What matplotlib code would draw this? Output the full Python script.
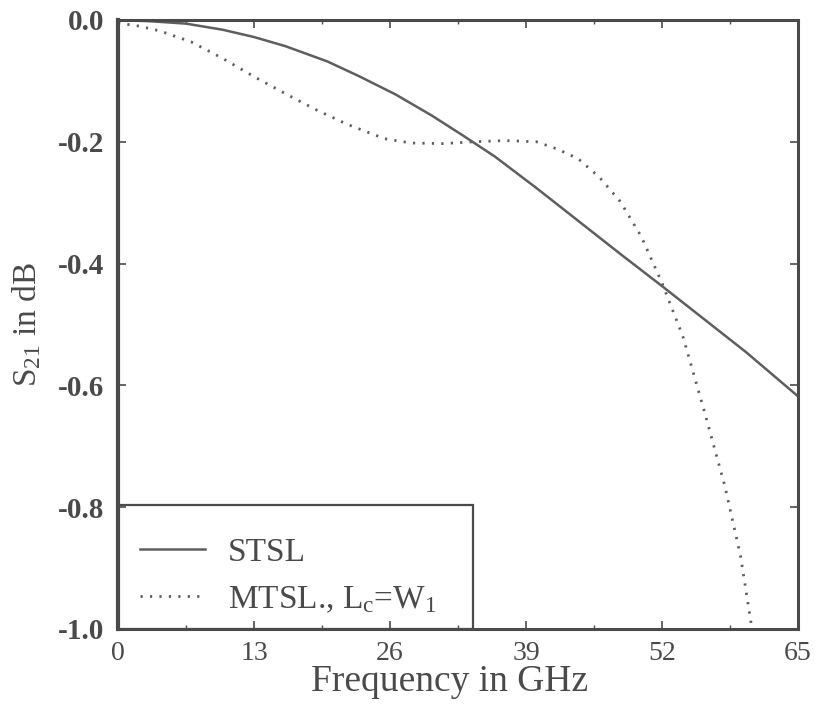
import matplotlib
matplotlib.use("Agg")
import matplotlib.pyplot as plt
from matplotlib.patches import Rectangle
from matplotlib.ticker import MultipleLocator

# Values (frequency in GHz, S21 in dB).
stsl_f = [0, 3, 6.5, 10, 13, 16, 20, 23, 26.5, 30, 33, 36, 40, 44, 48, 52, 56, 60, 65]
stsl_s21 = [0, -0.002, -0.006, -0.016, -0.028, -0.043, -0.068, -0.092, -0.122,
            -0.157, -0.190, -0.224, -0.276, -0.330, -0.384, -0.437, -0.491,
            -0.545, -0.618]

mtsl_f = [0, 2, 4, 7, 10, 13, 16, 19, 22, 25.5, 28, 31, 34, 37, 40, 42, 44, 46,
          48, 50, 52, 54, 56, 58, 59.5, 60.6]
mtsl_s21 = [-0.005, -0.010, -0.018, -0.036, -0.063, -0.093, -0.121, -0.148,
            -0.172, -0.195, -0.202, -0.203, -0.200, -0.198, -0.200, -0.212,
            -0.228, -0.258, -0.298, -0.355, -0.432, -0.520, -0.640, -0.765,
            -0.880, -1.0]

x_ticks = [0, 13, 26, 39, 52, 65]
y_ticks = [0.0, -0.2, -0.4, -0.6, -0.8, -1.0]

INK = "#4a4a4a"
LINE = "#5e5e5e"

plt.rcParams["font.family"] = ["Liberation Serif", "DejaVu Serif"]
plt.rcParams["mathtext.fontset"] = "custom"
plt.rcParams["mathtext.rm"] = "Liberation Serif"
plt.rcParams["mathtext.it"] = "Liberation Serif:italic"

fig = plt.figure(figsize=(8.15, 7.06), dpi=100)
ax = fig.add_axes([0.1448, 0.1091, 0.8344, 0.8626])

ax.plot(stsl_f, stsl_s21, color=LINE, lw=1.8, label="STSL")
ax.plot(mtsl_f, mtsl_s21, color=LINE, lw=2.0, linestyle=(0, (0.8, 2.6)),
        label=r"MTSL., L$_\mathrm{c}$=W$_1$")

ax.set_xlim(0, 65)
ax.set_ylim(-1.0, 0.0)
ax.set_xticks(x_ticks)
ax.set_yticks(y_ticks)
ax.set_yticklabels([f"{v:.1f}" for v in y_ticks])
ax.xaxis.set_minor_locator(MultipleLocator(6.5))

ax.tick_params(which="both", direction="in", top=True, right=True, color=INK)
ax.tick_params(which="major", length=6, width=1.2)
ax.tick_params(which="minor", length=3, width=1.0)
ax.tick_params(axis="x", labelsize=20, labelcolor=INK, pad=9)
ax.tick_params(axis="y", labelsize=21, labelcolor=INK, pad=10)
for lab in ax.get_yticklabels():
    lab.set_fontweight("bold")

for side in ax.spines.values():
    side.set_color(INK)
    side.set_linewidth(2.2)
ax.spines["left"].set_linewidth(3.0)

ax.set_xlabel("Frequency in GHz", fontsize=27, color=INK, va="center")
ax.xaxis.set_label_coords(0.487, -0.087)
ax.set_ylabel(r"S$_{21}$ in dB", fontsize=24, color=INK, va="center")
ax.yaxis.set_label_coords(-0.134, 0.50)

# legend sits in a box drawn against the lower-left corner
ax.add_patch(Rectangle((0, 0), 0.522, 0.204, transform=ax.transAxes,
                       fill=False, edgecolor=INK, lw=1.6, zorder=3))
leg = ax.legend(loc="upper left", frameon=False,
                fontsize=24, handlelength=1.95, handletextpad=0.7,
                labelspacing=0.49, borderpad=0.0, borderaxespad=0.0)
leg.set_bbox_to_anchor((0.032, 0.150), transform=ax.transAxes)
for t in leg.get_texts():
    t.set_color(INK)

fig.savefig("out.png", dpi=100)
